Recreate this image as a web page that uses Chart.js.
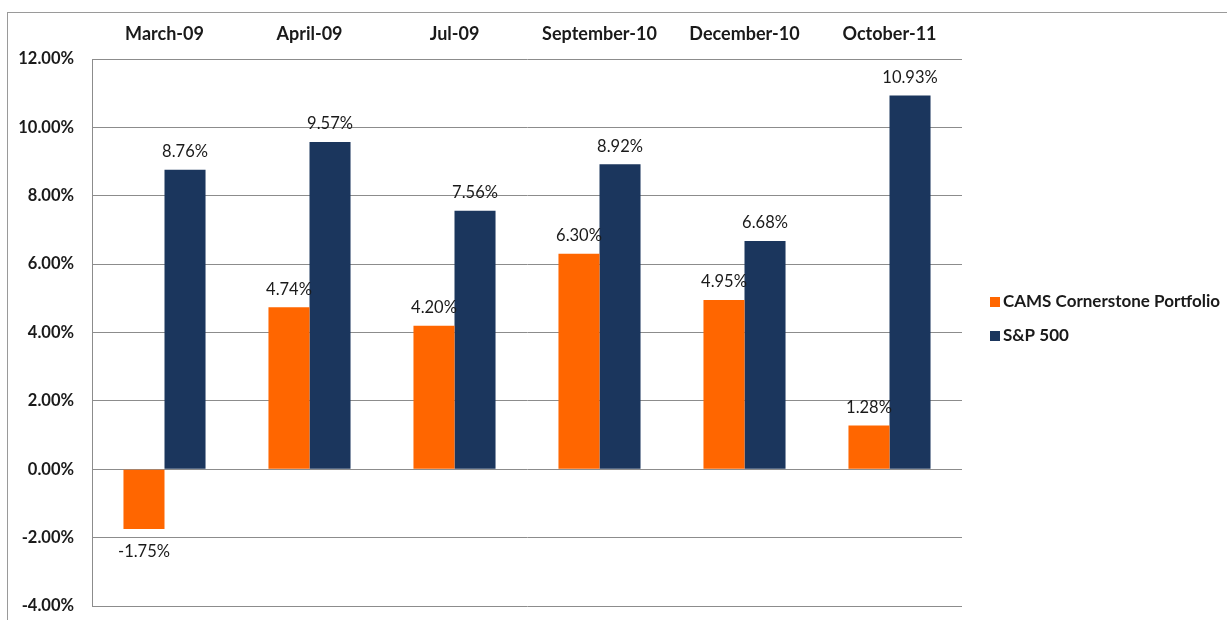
<!DOCTYPE html>
<html>
<head>
<meta charset="utf-8">
<script src="https://cdn.jsdelivr.net/npm/chart.js@4/dist/chart.umd.min.js"></script>
<style>
  html, body { margin: 0; padding: 0; background: #ffffff; overflow: hidden; }
  #wrap { position: absolute; left: 0; top: 0; width: 1227px; height: 620px; }
</style>
</head>
<body>
<div id="wrap"><canvas id="c" width="1227" height="620"></canvas></div>
<script>
const categories = ["March-09", "April-09", "Jul-09", "September-10", "December-10", "October-11"];
const seriesNames = ["CAMS Cornerstone Portfolio", "S&P 500"];
const camsValues = [-1.75, 4.74, 4.20, 6.30, 4.95, 1.28];
const spValues = [8.76, 9.57, 7.56, 8.92, 6.68, 10.93];
const yTicks = [-4, -2, 0, 2, 4, 6, 8, 10, 12];
const seriesColors = ["#FF6600", "#1B365D"];

const FONT = "Lato, 'Liberation Sans', sans-serif";

const frame = {
  id: 'frame',
  beforeDraw(chart) {
    const ctx = chart.ctx;
    ctx.save();
    ctx.strokeStyle = '#9a9a9a';
    ctx.lineWidth = 1;
    ctx.strokeRect(7.5, 12.5, 1400, 800);
    ctx.restore();
  }
};

const valueLabels = {
  id: 'valueLabels',
  afterDatasetsDraw(chart) {
    const ctx = chart.ctx;
    ctx.save();
    ctx.font = "16.5px " + FONT;
    ctx.fillStyle = '#1a1a1a';
    ctx.textAlign = 'center';
    ctx.textBaseline = 'middle';
    chart.data.datasets.forEach((ds, di) => {
      const meta = chart.getDatasetMeta(di);
      meta.data.forEach((el, i) => {
        const v = ds.data[i];
        const txt = v.toFixed(2) + '%';
        const y = v >= 0 ? el.y - 18 : el.y + 23;
        ctx.fillText(txt, el.x, y);
      });
    });
    ctx.restore();
  }
};

const customLegend = {
  id: 'customLegend',
  afterDraw(chart) {
    const ctx = chart.ctx;
    ctx.save();
    ctx.font = "bold 17px " + FONT;
    ctx.textBaseline = 'middle';
    ctx.textAlign = 'left';
    const x0 = 990, ys = [302, 336];
    chart.data.datasets.forEach((ds, di) => {
      ctx.fillStyle = ds.backgroundColor;
      ctx.fillRect(x0, ys[di] - 5, 10, 10);
      ctx.fillStyle = '#1a1a1a';
      ctx.fillText(ds.label, x0 + 13, ys[di]);
    });
    ctx.restore();
  }
};

new Chart(document.getElementById('c'), {
  type: 'bar',
  data: {
    labels: categories,
    datasets: [
      { label: seriesNames[0], data: camsValues, backgroundColor: seriesColors[0] },
      { label: seriesNames[1], data: spValues, backgroundColor: seriesColors[1] }
    ]
  },
  options: {
    responsive: false,
    animation: false,
    layout: { padding: { left: 0, top: 0, right: 265, bottom: 14 } },
    datasets: { bar: { categoryPercentage: 0.566, barPercentage: 1.0 } },
    plugins: {
      legend: { display: false },
      tooltip: { enabled: false }
    },
    scales: {
      x: {
        position: 'top',
        grid: { display: false, drawTicks: false },
        border: { display: false },
        ticks: {
          color: '#1a1a1a',
          font: { family: FONT, size: 18, weight: 'bold' },
          padding: 14,
          maxRotation: 0
        },
        afterFit(s) { s.height = 59; }
      },
      y: {
        min: -4, max: 12,
        afterBuildTicks(s) { s.ticks = yTicks.map(v => ({ value: v })); },
        grid: { color: '#8c8c8c', lineWidth: 1, drawTicks: false },
        border: { display: true, color: '#8c8c8c' },
        ticks: {
          color: '#1a1a1a',
          font: { family: FONT, size: 16.5, weight: 'bold' },
          padding: 18,
          callback: (v) => Number(v).toFixed(2) + '%'
        },
        afterFit(s) { s.width = 92; s.paddingTop = 0; s.paddingBottom = 0; }
      }
    }
  },
  plugins: [frame, valueLabels, customLegend]
});
</script>
</body>
</html>
